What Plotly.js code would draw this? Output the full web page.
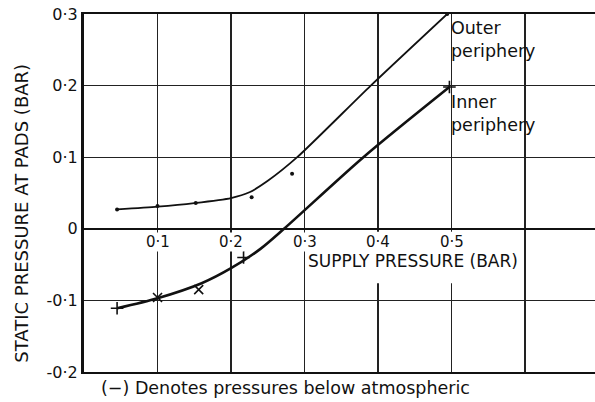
<!DOCTYPE html>
<html>
<head>
<meta charset="utf-8">
<script src="https://cdn.plot.ly/plotly-3.0.1.min.js"></script>
<style>html,body{margin:0;padding:0;background:#fff;}#chart{width:595px;height:402px;}</style>
</head>
<body>
<div id="chart"></div>
<script>
// Outer periphery: fitted curve and measured points
const outerCurveX = [0.045, 0.1, 0.15, 0.2, 0.225, 0.25, 0.29, 0.39, 0.494];
const outerCurveY = [0.027, 0.031, 0.036, 0.043, 0.051, 0.067, 0.1, 0.2, 0.3];
const outerPtsX = [0.045, 0.1, 0.152, 0.228, 0.283, 0.494];
const outerPtsY = [0.027, 0.032, 0.036, 0.044, 0.077, 0.3];

// Inner periphery: fitted curve and measured points
const innerCurveX = [0.045, 0.1, 0.16, 0.2, 0.24, 0.272, 0.38, 0.497];
const innerCurveY = [-0.111, -0.097, -0.076, -0.055, -0.028, 0, 0.1, 0.198];
const innerPtsX = [0.045, 0.1, 0.156, 0.217, 0.497];
const innerPtsY = [-0.111, -0.096, -0.085, -0.04, 0.198];
const innerPtsSym = ['cross-thin', 'x-thin', 'x-thin', 'cross-thin', 'cross-thin'];

// Ticks
const xTickVals = [0.1, 0.2, 0.3, 0.4, 0.5];
const xTickText = ['0·1', '0·2', '0·3', '0·4', '0·5'];
const xGridVals = [0.1, 0.2, 0.3, 0.4, 0.5, 0.6];
const yTickVals = [-0.2, -0.1, 0, 0.1, 0.2, 0.3];
const yTickText = ['-0·2', '-0·1', '0', '0·1', '0·2', '0·3'];

const FONT = 'DejaVu Sans, sans-serif';

const traces = [
  {x: outerCurveX, y: outerCurveY, mode: 'lines', line: {color: '#111', width: 1.8, shape: 'spline', smoothing: 0.6}, hoverinfo: 'skip'},
  {x: outerPtsX, y: outerPtsY, mode: 'markers', marker: {symbol: 'circle', size: 4, color: '#111'}},
  {x: innerCurveX, y: innerCurveY, mode: 'lines', line: {color: '#111', width: 2.6, shape: 'spline', smoothing: 0.8}, hoverinfo: 'skip'},
  {x: innerPtsX, y: innerPtsY, mode: 'markers', marker: {symbol: innerPtsSym, size: 9, color: '#111', line: {color: '#111', width: 1.6}}}
];

const tickAnnotations = xTickVals.map((v, i) => ({
  xref: 'x', yref: 'y', x: v, y: 0, xanchor: 'center', yanchor: 'top', yshift: -3,
  showarrow: false, text: xTickText[i], bgcolor: '#fff', borderpad: 0,
  font: {family: FONT, size: 15, color: '#111'}
}));

const layout = {
  width: 595, height: 402,
  margin: {l: 84, r: 0, t: 14, b: 30, pad: 0},
  paper_bgcolor: '#fff', plot_bgcolor: '#fff',
  showlegend: false,
  font: {family: FONT, color: '#111', size: 16},
  xaxis: {
    range: [0, 0.695], tickvals: xGridVals, showticklabels: false, ticks: '',
    showgrid: true, gridcolor: '#222', gridwidth: 1.4,
    showline: true, linecolor: '#111', linewidth: 2.2, mirror: true,
    zeroline: false
  },
  yaxis: {
    range: [-0.2, 0.3], tickvals: yTickVals, ticktext: yTickText, ticks: '',
    showgrid: true, gridcolor: '#222', gridwidth: 1.4,
    showline: true, linecolor: '#111', linewidth: 3,
    zeroline: true, zerolinecolor: '#111', zerolinewidth: 2.2,
    tickfont: {family: FONT, size: 16, color: '#111'}
  },
  shapes: [
    {type: 'rect', layer: 'between', xref: 'x', yref: 'y', x0: 0.307, x1: 0.53, y0: -0.076, y1: -0.004,
     fillcolor: '#fff', line: {width: 0}}
  ],
  annotations: tickAnnotations.concat([
    {xref: 'x', yref: 'y', x: 0.303, y: -0.045, xanchor: 'left', yanchor: 'middle', showarrow: false, borderpad: 0,
     text: 'SUPPLY PRESSURE (BAR)', font: {family: FONT, size: 17, color: '#111'}},
    {xref: 'paper', yref: 'paper', x: -0.124, y: 0.444, xanchor: 'center', yanchor: 'middle', showarrow: false, textangle: -90,
     text: 'STATIC PRESSURE AT PADS (BAR)', font: {family: FONT, size: 18, color: '#111'}},
    {xref: 'x', yref: 'y', x: 0.497, y: 0.297, xanchor: 'left', yanchor: 'top', showarrow: false, align: 'left',
     text: 'Outer<br>periphery', font: {family: FONT, size: 17.5, color: '#111'}},
    {xref: 'x', yref: 'y', x: 0.497, y: 0.194, xanchor: 'left', yanchor: 'top', showarrow: false, align: 'left',
     text: 'Inner<br>periphery', font: {family: FONT, size: 17.5, color: '#111'}},
    {xref: 'paper', yref: 'paper', x: 0.03, y: -0.046, xanchor: 'left', yanchor: 'middle', showarrow: false,
     text: '(−) Denotes pressures below atmospheric', font: {family: FONT, size: 17.5, color: '#111'}}
  ])
};

Plotly.newPlot('chart', traces, layout, {staticPlot: true});
</script>
</body>
</html>
